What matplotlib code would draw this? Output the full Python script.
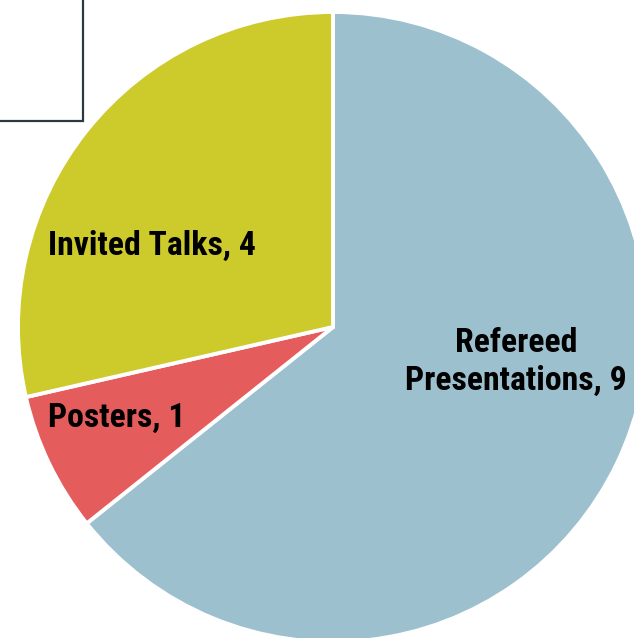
import matplotlib.pyplot as plt
from matplotlib.patches import Rectangle

plt.rcParams['font.family'] = ['Roboto Condensed', 'DejaVu Sans']

categorias = ['Refereed\nPresentations', 'Posters', 'Invited Talks']
valores = [9, 1, 4]
cores = ['#9DC0CF', '#E55C5C', '#CDCA2C']

fig = plt.figure(figsize=(6.34, 6.38), dpi=100)
ax = fig.add_axes([0, 0, 1, 1])

ax.pie(valores, colors=cores, startangle=90, counterclock=False,
       center=(333, 311), radius=315,
       wedgeprops=dict(edgecolor='white', linewidth=2.8))

# posicao dos rotulos (pixels)
pos_rotulos = [(516, 276), (117, 220), (152, 392)]
for nome, v, (x, y) in zip(categorias, valores, pos_rotulos):
    ax.text(x, y, f'{nome}, {v}', ha='center', va='center',
            fontsize=24.3, fontweight='bold', linespacing=1.22)

# caixa da legenda (vazia) no canto superior esquerdo
ax.add_patch(Rectangle((-5, 517), 88, 130, fill=False,
                       edgecolor='#2B3A42', linewidth=1.6))

ax.set_xlim(0, 634)
ax.set_ylim(0, 638)
ax.set_aspect('auto')
ax.axis('off')

plt.savefig('out.png', dpi=100)
